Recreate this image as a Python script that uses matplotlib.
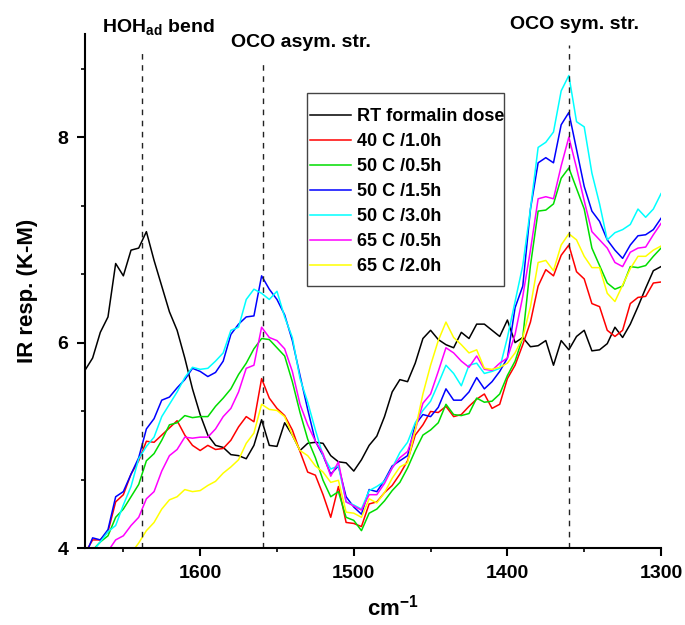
import numpy as np
import matplotlib.pyplot as plt
from matplotlib.patches import Rectangle
from matplotlib.ticker import MultipleLocator, AutoMinorLocator

plt.rcParams['font.family'] = ['Liberation Sans', 'DejaVu Sans']
plt.rcParams['font.weight'] = 'bold'
plt.rcParams['mathtext.fontset'] = 'custom'
plt.rcParams['mathtext.rm'] = 'Liberation Sans:bold'
plt.rcParams['mathtext.bf'] = 'Liberation Sans:bold'

# wavenumber grid (cm-1), read every 5 cm-1
wavenumber = [1675, 1670, 1665, 1660, 1655, 1650, 1645, 1640, 1635, 1630,
              1625, 1620, 1615, 1610, 1605, 1600, 1595, 1590, 1585, 1580,
              1575, 1570, 1565, 1560, 1555, 1550, 1545, 1540, 1535, 1530,
              1525, 1520, 1515, 1510, 1505, 1500, 1495, 1490, 1485, 1480,
              1475, 1470, 1465, 1460, 1455, 1450, 1445, 1440, 1435, 1430,
              1425, 1420, 1415, 1410, 1405, 1400, 1395, 1390, 1385, 1380,
              1375, 1370, 1365, 1360, 1355, 1350, 1345, 1340, 1335, 1330,
              1325, 1320, 1315, 1310, 1305, 1300]

rt_dose = [5.73, 5.85, 6.10, 6.25, 6.77, 6.65, 6.90, 6.92, 7.08, 6.80,
           6.55, 6.30, 6.12, 5.85, 5.55, 5.30, 5.10, 5.00, 4.98, 4.91,
           4.90, 4.87, 5.00, 5.25, 5.00, 4.99, 5.22, 5.10, 4.95, 5.02,
           5.03, 5.02, 4.90, 4.84, 4.83, 4.75, 4.86, 5.00, 5.09, 5.28,
           5.52, 5.64, 5.62, 5.80, 6.04, 6.12, 6.03, 5.98, 5.95, 6.10,
           6.04, 6.18, 6.18, 6.12, 6.06, 6.22, 6.00, 6.05, 5.96, 5.97,
           6.02, 5.78, 6.02, 5.93, 6.06, 6.12, 5.92, 5.93, 5.99, 6.15,
           6.05, 6.18, 6.35, 6.53, 6.70, 6.74]

c40_1h = [3.95, 4.08, 4.08, 4.16, 4.45, 4.52, 4.72, 4.85, 5.04, 5.03,
          5.10, 5.17, 5.24, 5.10, 5.00, 4.95, 5.00, 4.96, 4.97, 5.05,
          5.18, 5.28, 5.23, 5.65, 5.46, 5.36, 5.29, 5.15, 4.94, 4.74,
          4.71, 4.52, 4.30, 4.60, 4.25, 4.24, 4.21, 4.43, 4.45, 4.54,
          4.61, 4.72, 4.85, 5.10, 5.20, 5.33, 5.32, 5.38, 5.28, 5.30,
          5.38, 5.45, 5.50, 5.36, 5.40, 5.65, 5.78, 5.98, 6.20, 6.55,
          6.71, 6.65, 6.85, 6.95, 6.69, 6.62, 6.38, 6.35, 6.12, 6.06,
          6.12, 6.38, 6.44, 6.45, 6.58, 6.59]

c50_05h = [3.85, 3.98, 4.06, 4.12, 4.30, 4.38, 4.50, 4.62, 4.85, 4.92,
           5.05, 5.20, 5.22, 5.29, 5.27, 5.28, 5.28, 5.38, 5.46, 5.55,
           5.69, 5.80, 5.94, 6.04, 6.03, 5.95, 5.87, 5.62, 5.32, 5.06,
           4.88, 4.66, 4.50, 4.55, 4.30, 4.27, 4.17, 4.34, 4.38, 4.46,
           4.56, 4.64, 4.78, 4.95, 5.10, 5.15, 5.22, 5.40, 5.30, 5.29,
           5.31, 5.46, 5.42, 5.43, 5.50, 5.68, 5.82, 6.05, 6.75, 7.28,
           7.29, 7.35, 7.60, 7.70, 7.50, 7.30, 6.92, 6.75, 6.58, 6.52,
           6.55, 6.74, 6.73, 6.75, 6.84, 6.92]

c50_15h = [3.92, 4.10, 4.08, 4.18, 4.50, 4.55, 4.72, 4.88, 5.16, 5.26,
           5.44, 5.47, 5.56, 5.64, 5.75, 5.72, 5.67, 5.71, 5.82, 6.08,
           6.18, 6.25, 6.26, 6.65, 6.52, 6.42, 6.27, 6.02, 5.68, 5.35,
           5.04, 4.90, 4.72, 4.80, 4.50, 4.40, 4.33, 4.57, 4.55, 4.66,
           4.80, 4.85, 4.90, 5.20, 5.30, 5.28, 5.37, 5.55, 5.44, 5.44,
           5.52, 5.66, 5.55, 5.62, 5.72, 5.85, 6.34, 6.55, 7.30, 7.75,
           7.80, 7.75, 8.12, 8.24, 7.88, 7.52, 7.28, 7.18, 7.00, 6.90,
           6.82, 6.95, 7.04, 7.05, 7.10, 7.21]

c50_3h = [3.85, 3.97, 4.06, 4.16, 4.22, 4.42, 4.60, 4.87, 4.99, 5.08,
          5.28, 5.40, 5.52, 5.66, 5.76, 5.74, 5.75, 5.82, 5.90, 6.12,
          6.15, 6.42, 6.52, 6.48, 6.42, 6.50, 6.25, 6.05, 5.65, 5.42,
          5.15, 4.90, 4.77, 4.80, 4.45, 4.42, 4.38, 4.56, 4.60, 4.65,
          4.78, 4.93, 5.03, 5.22, 5.34, 5.43, 5.60, 5.78, 5.70, 5.58,
          5.78, 5.80, 5.70, 5.72, 5.75, 6.05, 6.40, 6.75, 7.30, 7.90,
          7.95, 8.05, 8.45, 8.60, 8.15, 8.10, 7.65, 7.35, 7.00, 7.07,
          7.10, 7.15, 7.30, 7.22, 7.30, 7.45]

c65_05h = [3.60, 3.75, 3.88, 3.97, 4.08, 4.12, 4.22, 4.30, 4.48, 4.55,
           4.75, 4.90, 4.96, 5.08, 5.07, 5.08, 5.08, 5.16, 5.28, 5.36,
           5.52, 5.75, 5.78, 6.15, 6.05, 6.02, 5.94, 5.72, 5.40, 5.20,
           5.04, 4.92, 4.70, 4.84, 4.45, 4.41, 4.37, 4.52, 4.52, 4.63,
           4.78, 4.88, 4.94, 5.15, 5.41, 5.50, 5.72, 5.95, 5.90, 5.82,
           5.76, 5.87, 5.74, 5.73, 5.80, 5.85, 6.08, 6.45, 6.90, 7.40,
           7.42, 7.40, 7.72, 8.00, 7.70, 7.38, 7.08, 7.00, 6.92, 6.78,
           6.74, 6.88, 6.92, 6.93, 7.05, 7.16]

c65_2h = [3.50, 3.60, 3.70, 3.78, 3.85, 3.90, 3.95, 4.05, 4.17, 4.25,
          4.38, 4.47, 4.50, 4.57, 4.55, 4.56, 4.61, 4.65, 4.73, 4.79,
          4.86, 5.02, 5.12, 5.40, 5.35, 5.34, 5.28, 5.10, 4.95, 4.90,
          4.80, 4.74, 4.64, 4.66, 4.35, 4.34, 4.30, 4.48, 4.44, 4.54,
          4.68, 4.79, 4.83, 5.15, 5.50, 5.78, 6.02, 6.20, 6.05, 5.98,
          5.90, 5.93, 5.75, 5.74, 5.76, 5.80, 5.90, 6.05, 6.35, 6.78,
          6.80, 6.70, 6.95, 7.06, 7.00, 6.84, 6.73, 6.73, 6.48, 6.40,
          6.56, 6.72, 6.84, 6.84, 6.90, 6.94]

series = [rt_dose, c40_1h, c50_05h, c50_15h, c50_3h, c65_05h, c65_2h]
labels = ['RT formalin dose', '40 C /1.0h', '50 C /0.5h', '50 C /1.5h',
          '50 C /3.0h', '65 C /0.5h', '65 C /2.0h']
colors = ['black', '#ff0000', '#00dd00', '#0000ff', '#00ffff', '#ff00ff', '#ffff00']

# band positions and names
band_pos = [1638, 1559, 1360]
band_top = [8.86, 8.75, 8.90]
band_names = ['HOH$_{\\mathbf{ad}}$ bend', 'OCO asym. str.', 'OCO sym. str.']
name_x = [1664, 1580, 1398]
name_y = [9.02, 8.88, 9.05]

fig = plt.figure(figsize=(6.85, 6.25), dpi=100)
ax = fig.add_axes([0.124, 0.123, 0.841, 0.822])

for y, lab, c in zip(series, labels, colors):
    ax.plot(wavenumber, y, color=c, lw=1.1, label=lab)

# dashed band markers
ax.vlines(band_pos, 4, band_top, colors='#222222', linestyles=(0, (4, 4)), lw=1.0)
for x, y, t in zip(name_x, name_y, band_names):
    ax.text(x, y, t, fontsize=14, fontweight='bold', ha='left', va='baseline', clip_on=False)

ax.set_xlim(1675, 1300)
ax.set_ylim(4, 9)
ax.xaxis.set_major_locator(MultipleLocator(100))
ax.xaxis.set_minor_locator(MultipleLocator(50))
ax.yaxis.set_major_locator(MultipleLocator(2))
ax.yaxis.set_minor_locator(AutoMinorLocator(3))

ax.spines['top'].set_visible(False)
ax.spines['right'].set_visible(False)
for s in ['left', 'bottom']:
    ax.spines[s].set_linewidth(1.5)
ax.tick_params(which='major', direction='out', length=6, width=1.5, labelsize=14, pad=6)
ax.tick_params(which='minor', direction='out', length=3, width=1.2)
for lab in ax.get_xticklabels() + ax.get_yticklabels():
    lab.set_fontweight('bold')

ax.set_ylabel('IR resp. (K-M)', fontsize=16, fontweight='bold', labelpad=14)
ax.set_xlabel('cm$^{\\mathbf{-1}}$', fontsize=16, fontweight='bold', labelpad=12)
ax.xaxis.set_label_coords(0.535, -0.09)

# legend box drawn by hand (Origin style: tall padding, tight sides)
ax.add_patch(Rectangle((0.3854, 0.5097), 0.342, 0.3755, transform=ax.transAxes,
                       facecolor='white', edgecolor='#444444', lw=1.0, zorder=4))
leg = ax.legend(loc='upper left', bbox_to_anchor=(0.3906, 0.856), frameon=False,
                fontsize=13, handlelength=2.27, handletextpad=0.33,
                labelspacing=0.44, borderpad=0, borderaxespad=0)
leg.set_zorder(5)
for t in leg.get_texts():
    t.set_fontweight('bold')

fig.savefig('out.png', dpi=100)
